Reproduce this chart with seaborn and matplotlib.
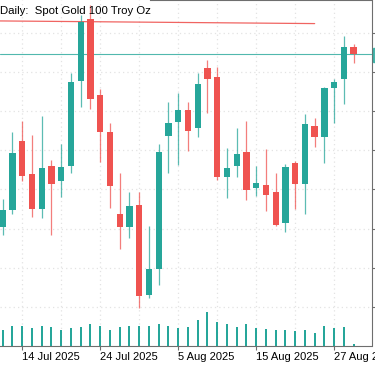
import matplotlib
matplotlib.use("Agg")
import matplotlib.pyplot as plt
import seaborn as sns
import numpy as np
import pandas as pd
from matplotlib.patches import Rectangle

sns.set_style("white")
plt.rcParams['font.family'] = ['Liberation Sans', 'DejaVu Sans']

# ---------------- data ----------------
dates = ["2025-07-10", "2025-07-11", "2025-07-14", "2025-07-15", "2025-07-16", "2025-07-17",
         "2025-07-18", "2025-07-21", "2025-07-22", "2025-07-23", "2025-07-24", "2025-07-25",
         "2025-07-28", "2025-07-29", "2025-07-30", "2025-07-31", "2025-08-01", "2025-08-04",
         "2025-08-05", "2025-08-06", "2025-08-07", "2025-08-08", "2025-08-11", "2025-08-12",
         "2025-08-13", "2025-08-14", "2025-08-15", "2025-08-18", "2025-08-19", "2025-08-20",
         "2025-08-21", "2025-08-22", "2025-08-25", "2025-08-26", "2025-08-27", "2025-08-28",
         "2025-08-29"]
opens = [3326.0, 3336.9, 3381.1, 3359.9, 3337.5, 3365.1, 3355.4, 3365.1, 3419.5, 3459.2,
         3410.5, 3386.8, 3334.3, 3326.0, 3340.1, 3282.5, 3299.1, 3384.3, 3393.2, 3400.9,
         3389.4, 3427.8, 3422.0, 3358.0, 3365.1, 3374.0, 3351.0, 3352.9, 3348.4, 3328.6,
         3367.0, 3353.5, 3390.7, 3383.6, 3415.0, 3420.7, 3441.2]
highs = [3343.9, 3386.8, 3393.9, 3384.9, 3397.1, 3368.9, 3379.1, 3424.6, 3461.7, 3468.1,
         3414.3, 3392.6, 3360.6, 3348.4, 3348.4, 3326.6, 3379.1, 3406.0, 3411.8, 3406.0,
         3424.6, 3432.9, 3428.4, 3376.6, 3389.4, 3393.9, 3365.1, 3375.9, 3360.6, 3366.3,
         3368.3, 3398.3, 3395.8, 3415.6, 3420.7, 3448.3, 3443.2]
lows = [3320.9, 3334.3, 3355.4, 3332.4, 3331.8, 3320.9, 3345.2, 3360.6, 3402.8, 3401.5,
        3367.6, 3338.2, 3311.9, 3319.0, 3274.1, 3280.5, 3288.9, 3360.6, 3365.7, 3374.7,
        3383.6, 3399.0, 3356.1, 3344.6, 3358.0, 3343.3, 3345.8, 3336.2, 3326.6, 3322.8,
        3337.5, 3334.3, 3377.2, 3367.0, 3392.6, 3404.7, 3431.0]
closes = [3336.9, 3373.4, 3358.6, 3337.5, 3363.8, 3353.5, 3364.4, 3418.8, 3457.2, 3407.9,
          3386.8, 3352.2, 3326.0, 3339.4, 3281.8, 3299.1, 3374.0, 3392.6, 3400.9, 3387.5,
          3417.5, 3420.7, 3358.0, 3363.8, 3372.7, 3349.7, 3354.2, 3346.5, 3327.3, 3364.4,
          3353.5, 3391.9, 3383.6, 3415.0, 3418.8, 3441.2, 3436.8]
volumes = [16000, 20000, 20000, 18000, 20000, 19000, 16000, 18000, 19300, 22300,
           20000, 16000, 19000, 20000, 20000, 20000, 22300, 20000, 18000, 19000,
           26000, 34000, 24000, 21700, 19000, 22300, 17700, 16700, 15700, 16000,
           15000, 16000, 12700, 20000, 18000, 19300, 2300]
trend_x = [-0.28, 32.0]
trend_y = [3457.9, 3456.2]
price_ticks = [3275, 3300, 3325, 3350, 3375, 3400, 3425, 3450]
title = "Daily:  Spot Gold 100 Troy Oz"

# ---------------- styling ----------------
UP = "#26a69a"
DOWN = "#ef5350"
GRID = "#e3e3e3"
SPINE = "#6e6e6e"

W, H = 375, 366
fig = plt.figure(figsize=(W / 100, H / 100), dpi=100)
ax_bottom_px = 346
ax_right_px = 371.5
ax = fig.add_axes([0, 1 - ax_bottom_px / H, ax_right_px / W, ax_bottom_px / H])

idx = np.arange(len(dates))
o = np.array(opens); h = np.array(highs); l = np.array(lows); c = np.array(closes)
up = c >= o
cols = np.where(up, UP, DOWN)

# volume on a twin axis (drawn with seaborn)
ax2 = ax.twinx()
vdf = pd.DataFrame({"i": idx, "v": volumes})
sns.barplot(data=vdf, x="i", y="v", native_scale=True, width=0.2, color=UP,
            saturation=1, linewidth=0, ax=ax2)
ax2.set_ylim(0, 346000)
ax2.set_yticks([])
ax2.set_ylabel("")
ax2.set_xlabel("")
for s in ax2.spines.values():
    s.set_visible(False)

# wicks
ax.vlines(idx, l, h, colors=cols, linewidth=0.9, alpha=0.75, zorder=3)
# bodies
body_bottom = np.minimum(o, c)
body_h = np.maximum(np.abs(c - o), 0.4)
ax.bar(idx, body_h, bottom=body_bottom, width=0.65, color=cols, linewidth=0, zorder=4)

# trend line and price line
ax.plot(trend_x, trend_y, color=DOWN, linewidth=0.9, alpha=0.9, zorder=2)
ax.axhline(closes[-1], color=UP, linewidth=0.8, alpha=0.8, zorder=2)

ax.set_xlim(-0.277, 37.83)
ax.set_ylim(3249.8, 3471.3)

# ticks
dts = pd.to_datetime(dates)
major = list(range(2, len(dates), 8))
minor = [i for i in range(2, len(dates), 4) if i not in major]
ax.set_xticks(major)
ax.set_xticklabels([f"{dts[i].day} {dts[i].strftime('%b %Y')}" for i in major])
ax.set_xticks(minor, minor=True)
for lbl in ax.get_xticklabels():
    lbl.set_ha("left")
ax.tick_params(axis="x", which="major", length=3, width=0.8, color=SPINE, pad=1.5,
               labelsize=8, labelcolor="black", bottom=True)
ax.tick_params(axis="x", which="minor", length=0)
ax.yaxis.tick_right()
ax.set_yticks(price_ticks)
ax.tick_params(axis="y", length=4, width=0.8, color=SPINE, right=True, labelright=False)
ax.grid(True, which="both", axis="x", color=GRID, linestyle=(0, (1, 2.5)), linewidth=0.9)
ax.grid(True, which="major", axis="y", color=GRID, linestyle=(0, (1, 2.5)), linewidth=0.9)
ax.set_axisbelow(True)

ax.spines["left"].set_visible(False)
for name in ["right", "bottom", "top"]:
    ax.spines[name].set_color(SPINE)
    ax.spines[name].set_linewidth(0.8)
x150 = -0.277 + 150 / 9.75
ax.spines["top"].set_bounds(x150, 37.83)

# title text
fig.text(0.5 / W, 1 - 14.5 / H, title, fontsize=8.2, color="black", ha="left", va="baseline")

# teal price marker on the right edge
fig.patches.append(Rectangle((373 / W, 1 - 62 / H), 3 / W, 14 / H, transform=fig.transFigure,
                             color=UP, alpha=0.8))

fig.savefig("out.png", dpi=100)
